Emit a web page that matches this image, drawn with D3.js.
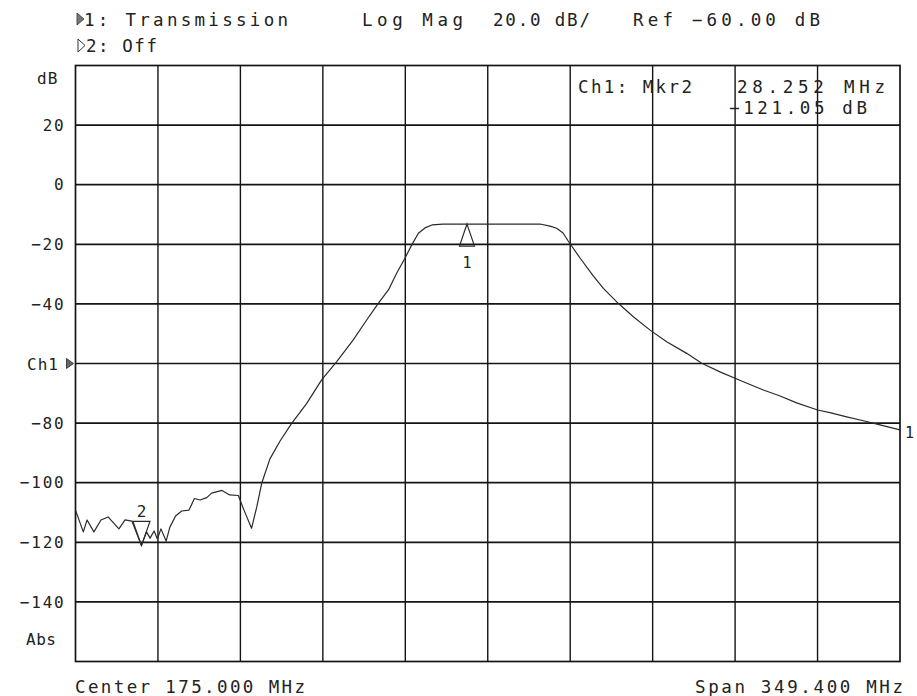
<!DOCTYPE html>
<html>
<head>
<meta charset="utf-8">
<script src="https://cdn.jsdelivr.net/npm/d3@7"></script>
<style>
  html, body { margin: 0; padding: 0; background: #fff; }
  svg { display: block; }
  text { font-family: "DejaVu Sans Mono", "Liberation Mono", monospace; fill: #222; }
</style>
</head>
<body>
<svg id="chart" width="917" height="696"></svg>
<script>
// Sweep settings (MHz)
const centerMHz = 175.0;
const spanMHz = 349.4;

// Transmission trace: frequency (MHz) and magnitude (dB)
const traceFreq = [
  0.3, 3.6, 5.2, 8.1, 11.1, 14.1, 16.4, 18.7, 21.3, 24.2, 28.252, 30.4, 31.9, 33.6,
  35.0, 36.5, 38.7, 40.3, 42.7, 45.3, 48.4, 50.7, 53.1, 55.9, 58.0, 62.4, 65.6, 69.3,
  71.7, 74.9, 77.1, 79.2, 82.7, 87.0, 91.9, 98.3, 104.6, 111.0, 118.0, 123.7, 128.6,
  132.9, 136.4, 139.9, 142.8, 145.6, 148.4, 151.4, 156.0, 174.7, 197.1, 201.4, 204.2,
  206.9, 209.1, 214.1, 219.7, 224.0, 230.3, 236.7, 243.8, 250.8, 259.3, 265.7, 273.4,
  283.3, 291.8, 298.9, 305.9, 314.8, 320.0, 327.1, 334.2, 341.2, 349.7
];
const traceDb = [
  -109.2, -116.5, -112.5, -116.5, -112.5, -111.5, -113.5, -115.5, -112.5, -112.9, -121.05, -116.5, -118.6, -116.2,
  -118.9, -115.5, -119.6, -114.9, -111.2, -109.5, -109.2, -105.3, -105.8, -105.0, -103.5, -102.6, -104.1, -104.3,
  -109.2, -115.3, -108.2, -100.2, -92.0, -86.0, -80.1, -73.4, -65.5, -59.4, -52.1, -45.4, -39.8,
  -35.3, -29.7, -24.7, -20.2, -16.3, -14.5, -13.5, -13.2, -13.2, -13.2, -13.9, -14.6,
  -16.2, -18.9, -24.6, -30.6, -34.8, -39.8, -44.3, -48.8, -52.7, -56.6, -59.9, -62.8,
  -66.1, -68.9, -70.9, -73.2, -75.6, -76.5, -77.9, -79.2, -80.6, -82.3
];

// Markers
const markerFreq = [166.2, 28.252];
const markerDb = [-13.2, -121.05];

// Vertical scale
const refLevel = -60;
const dbPerDiv = 20;
const yTickValues = [20, 0, -20, -40, -80, -100, -120, -140];

// Annotation text
const headerLine1 = ["1: Transmission", "Log Mag", "20.0 dB/", "Ref \u221260.00 dB"];
const headerLine2 = "2: Off";
const readoutLabel = "Ch1: Mkr2";
const readoutFreq = "28.252 MHz";
const readoutDb = "\u2212121.05 dB";
const footerLeft = "Center 175.000 MHz";
const footerRight = "Span 349.400 MHz";

const svg = d3.select("#chart");
const plot = { left: 75.5, right: 900, top: 65.5, bottom: 661.5 };

const startMHz = centerMHz - spanMHz / 2;
const stopMHz = centerMHz + spanMHz / 2;
const x = d3.scaleLinear().domain([startMHz, stopMHz]).range([plot.left, plot.right]);
const y = d3.scaleLinear()
  .domain([refLevel - 5 * dbPerDiv, refLevel + 5 * dbPerDiv])
  .range([plot.bottom, plot.top]);

// Graticule: 10 x 10 divisions
const xDivs = d3.range(1, 10).map(i => startMHz + i * spanMHz / 10);
const yDivs = d3.range(1, 10).map(i => refLevel - 5 * dbPerDiv + i * dbPerDiv);

const grid = svg.append("g").attr("stroke", "#141414").attr("fill", "none");
grid.selectAll("line.v").data(xDivs).join("line")
  .attr("x1", d => x(d)).attr("x2", d => x(d))
  .attr("y1", plot.top).attr("y2", plot.bottom)
  .attr("stroke-width", 1.4);
grid.selectAll("line.h").data(yDivs).join("line")
  .attr("y1", d => y(d)).attr("y2", d => y(d))
  .attr("x1", plot.left).attr("x2", plot.right)
  .attr("stroke-width", 1.7);
grid.append("rect")
  .attr("x", plot.left).attr("y", plot.top)
  .attr("width", plot.right - plot.left).attr("height", plot.bottom - plot.top)
  .attr("stroke-width", 1.7);

// Y axis labels
const yAxis = d3.axisLeft(y)
  .tickValues(yTickValues)
  .tickSize(0)
  .tickPadding(10)
  .tickFormat(d => d < 0 ? "\u2212" + Math.abs(d) : String(d));
const yAxisG = svg.append("g").attr("transform", `translate(${plot.left},0)`).call(yAxis);
yAxisG.select(".domain").remove();
yAxisG.selectAll("text")
  .style("font-family", "DejaVu Sans Mono, monospace")
  .style("font-size", "16px")
  .style("letter-spacing", "1.8px")
  .attr("fill", "#222");

svg.append("text").attr("x", 37).attr("y", 84).attr("font-size", 16)
  .attr("letter-spacing", 1).text("dB");
svg.append("text").attr("x", 26).attr("y", 645).attr("font-size", 16)
  .attr("letter-spacing", 0.5).text("Abs");
svg.append("text").attr("x", 27).attr("y", y(refLevel) + 6).attr("font-size", 16)
  .attr("letter-spacing", 1).text("Ch1");
// reference level pointer
svg.append("path")
  .attr("d", `M${plot.left - 9},${y(refLevel) - 5} L${plot.left - 2},${y(refLevel)} L${plot.left - 9},${y(refLevel) + 5} Z`)
  .attr("fill", "#666").attr("stroke", "#222").attr("stroke-width", 0.8);

// Trace
const traceData = traceFreq.map((f, i) => [f, traceDb[i]]);
svg.append("path")
  .datum(traceData)
  .attr("fill", "none")
  .attr("stroke", "#2a2a2a")
  .attr("stroke-width", 1.2)
  .attr("stroke-linejoin", "round")
  .attr("d", d3.line().x(d => x(d[0])).y(d => y(d[1])));

// Marker 1: upward triangle under the trace
const m1x = x(markerFreq[0]), m1y = y(markerDb[0]);
svg.append("path")
  .attr("d", `M${m1x},${m1y} L${m1x - 7.5},${m1y + 22} L${m1x + 7.5},${m1y + 22} Z`)
  .attr("fill", "none").attr("stroke", "#2a2a2a").attr("stroke-width", 1.2);
svg.append("text").attr("x", m1x).attr("y", m1y + 44).attr("text-anchor", "middle")
  .attr("font-size", 15).text("1");

// Marker 2: downward triangle resting on the trace
const m2x = x(markerFreq[1]), m2y = y(markerDb[1]);
svg.append("path")
  .attr("d", `M${m2x},${m2y} L${m2x - 8.5},${m2y - 24} L${m2x + 8.5},${m2y - 24} Z`)
  .attr("fill", "none").attr("stroke", "#2a2a2a").attr("stroke-width", 1.2);
svg.append("text").attr("x", m2x).attr("y", m2y - 28).attr("text-anchor", "middle")
  .attr("font-size", 16).text("2");

// Trace end label
svg.append("text").attr("x", plot.right + 5).attr("y", y(traceDb[traceDb.length - 1]) + 8)
  .attr("font-size", 15).text("1");

// Header
function fitted(str, x0, yb, len, size) {
  return svg.append("text")
    .attr("x", x0).attr("y", yb)
    .attr("font-size", size || 17.5)
    .attr("textLength", len)
    .attr("lengthAdjust", "spacing")
    .text(str);
}
svg.append("path")
  .attr("d", "M77,13 L84,19 L77,25 Z")
  .attr("fill", "#777").attr("stroke", "#333").attr("stroke-width", 0.8);
fitted(headerLine1[0], 84, 26, 204);
fitted(headerLine1[1], 362, 26, 101);
fitted(headerLine1[2], 493, 26, 97);
fitted(headerLine1[3], 633, 26, 187);

svg.append("path")
  .attr("d", "M78,39 L85,45.5 L78,52 Z")
  .attr("fill", "none").attr("stroke", "#333").attr("stroke-width", 1);
fitted(headerLine2, 86, 52, 71);

// Marker readout
fitted(readoutLabel, 578, 93, 114);
fitted(readoutFreq, 737, 93, 148);
fitted(readoutDb, 729, 114, 138);

// Footer
fitted(footerLeft, 75, 693, 230);
fitted(footerRight, 695, 693, 208);
</script>
</body>
</html>
